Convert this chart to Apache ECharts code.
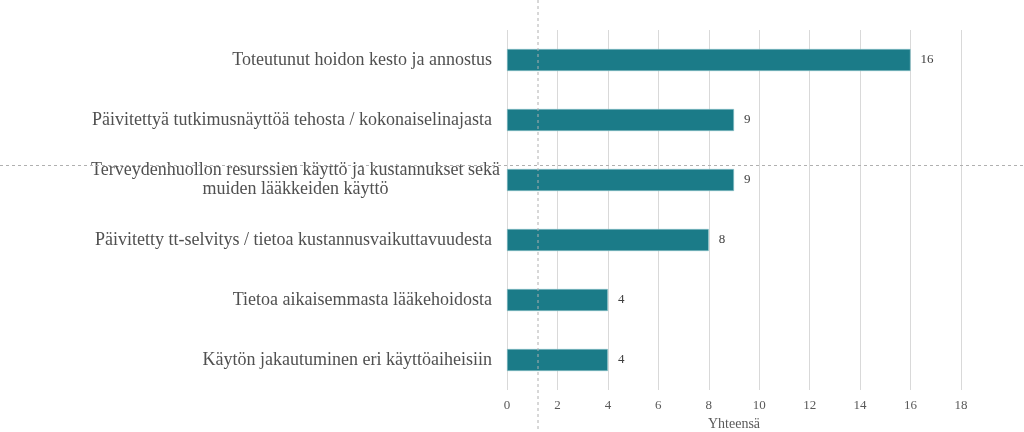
<!DOCTYPE html>
<html>
<head>
<meta charset="utf-8">
<script src="https://cdn.jsdelivr.net/npm/echarts@6/dist/echarts.min.js"></script>
<style>html,body{margin:0;padding:0;background:#fff;}#main{width:1024px;height:432px;}</style>
</head>
<body>
<div id="main"></div>
<script>
var categories = [
    'Toteutunut hoidon kesto ja annostus',
    'Päivitettyä tutkimusnäyttöä tehosta / kokonaiselinajasta',
    'Terveydenhuollon resurssien käyttö ja kustannukset sekä\nmuiden lääkkeiden käyttö',
    'Päivitetty tt-selvitys / tietoa kustannusvaikuttavuudesta',
    'Tietoa aikaisemmasta lääkehoidosta',
    'Käytön jakautuminen eri käyttöaiheisiin'
];
var values = [16, 9, 9, 8, 4, 4];
var xTicks = [0, 18, 2];

var myChart = echarts.init(document.getElementById('main'));
var serif = '"Liberation Serif", "DejaVu Serif", serif';
var option = {
    animation: false,
    grid: {left: 507, right: 63, top: 30, bottom: 42, outerBoundsMode: 'none', containLabel: false},
    xAxis: {
        type: 'value',
        min: xTicks[0], max: xTicks[1], interval: xTicks[2],
        name: 'Yhteensä',
        nameLocation: 'middle',
        nameGap: 27,
        nameTextStyle: {fontFamily: serif, fontSize: 14, color: '#595959'},
        axisLine: {show: false},
        axisTick: {show: false},
        axisLabel: {fontFamily: serif, fontSize: 13, color: '#595959', margin: 9},
        splitLine: {lineStyle: {color: '#d9d9d9', width: 1}}
    },
    yAxis: {
        type: 'category',
        inverse: true,
        data: categories,
        axisLine: {show: false},
        axisTick: {show: false},
        axisLabel: {
            fontFamily: serif, fontSize: 18, color: '#505050', margin: 15,
            lineHeight: 19,
            formatter: function (v) {
                if (v.indexOf('\n') >= 0) {
                    var p = v.split('\n');
                    return '{c|' + p[0] + '}\n{c|' + p[1] + '}';
                }
                return v;
            },
            rich: {
                c: {fontFamily: serif, fontSize: 18, color: '#505050', width: 419, align: 'center', lineHeight: 19, padding: [0, -13, 0, 0]}
            }
        }
    },
    series: [{
        type: 'bar',
        data: values,
        barWidth: 22,
        itemStyle: {color: '#1b7b88', borderColor: '#8cc3ca', borderWidth: 0.6},
        label: {show: true, position: 'right', distance: 10, fontFamily: serif, fontSize: 13, color: '#404040'}
    }],
    graphic: [
        {type: 'line', shape: {x1: 538, y1: 0, x2: 538, y2: 432}, style: {stroke: '#b0b0b0', lineWidth: 1, lineDash: [3, 3]}, z: 10},
        {type: 'line', shape: {x1: 0, y1: 165.5, x2: 1024, y2: 165.5}, style: {stroke: '#b0b0b0', lineWidth: 1, lineDash: [3, 3]}, z: 10}
    ]
};
myChart.setOption(option);
</script>
</body>
</html>
